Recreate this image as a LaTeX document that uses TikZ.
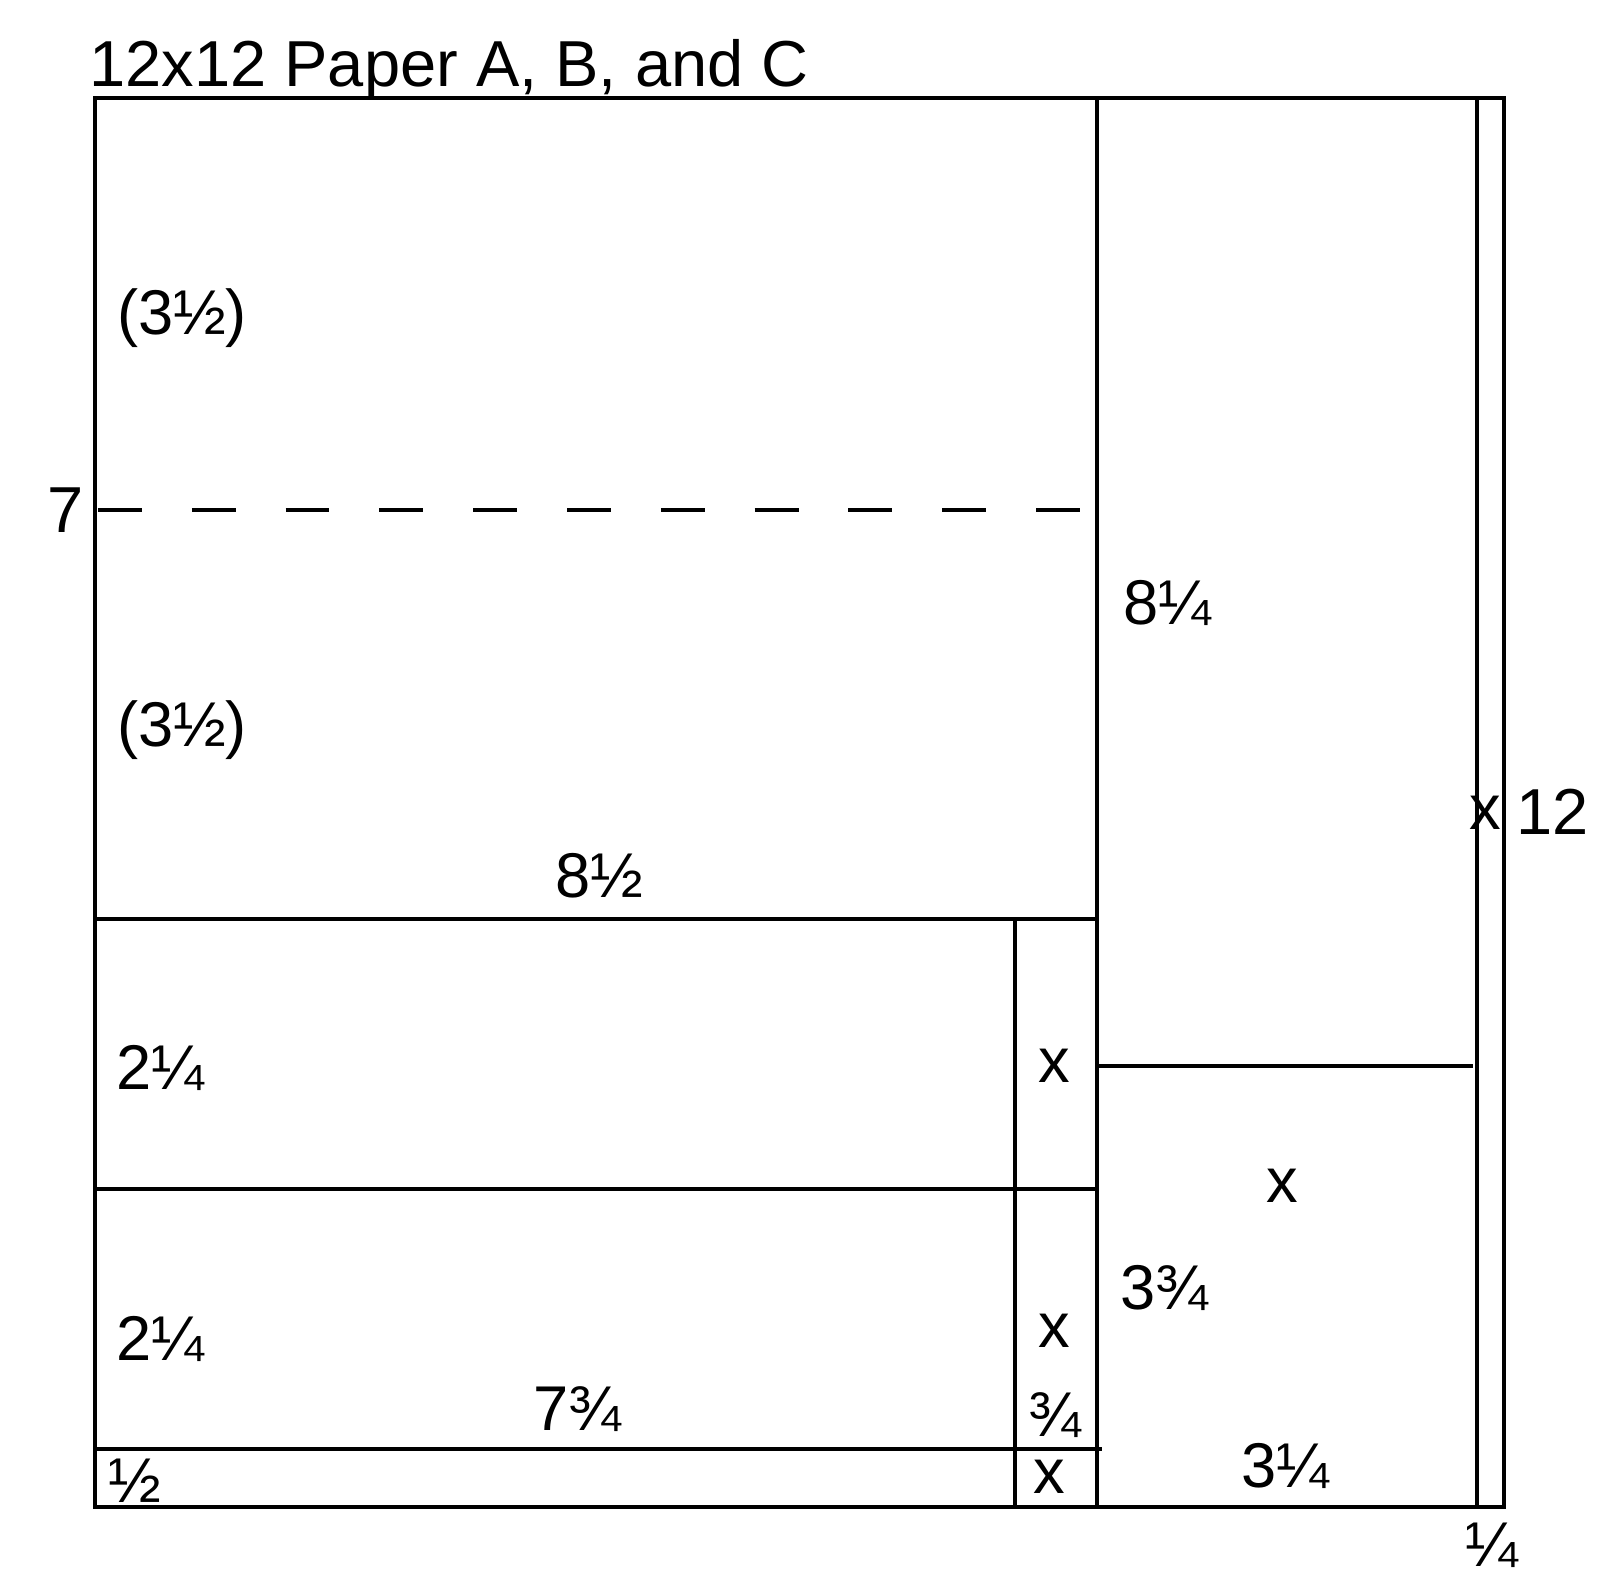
\documentclass[tikz,border=0pt]{standalone}
\usepackage{fontspec}
\setmainfont{Liberation Sans}
\begin{document}
\begin{tikzpicture}[x=0.0102041cm,y=-0.0102041cm,
  edge/.style={line width=1.15pt,line cap=rect},
  cut/.style={line width=1.15pt,dash pattern=on 12.5pt off 14.2pt},
  lbl/.style={inner sep=0pt,font=\fontsize{18}{21}\selectfont},
  big/.style={inner sep=0pt,font=\fontsize{18.5}{22}\selectfont}]
\useasboundingbox (0,0) rectangle (1568,1561);
% corners
\coordinate (tl) at (93,96);
\coordinate (bl) at (93,1477);
\coordinate (tr) at (1474,96);
\coordinate (br) at (1474,1477);
\coordinate (ir-t) at (1447,96);
\coordinate (ir-b) at (1447,1477);
\coordinate (m-t) at (1075,96);
\coordinate (m-b) at (1075,1477);
\coordinate (h1-l) at (93,901);
\coordinate (h1-r) at (1075,901);
\coordinate (v2-t) at (995,901);
\coordinate (v2-b) at (995,1477);
\coordinate (h2-l) at (93,1165);
\coordinate (h2-r) at (1075,1165);
\coordinate (h3-l) at (97,1420);
\coordinate (h3-r) at (1078,1420);
\coordinate (h4-l) at (1075,1045);
\coordinate (h4-r) at (1442,1045);
\coordinate (d-l) at (96,500);
\coordinate (d-r) at (1062,500);
% lines
\draw[edge] (tl) -- (tr) -- (br) -- (bl) -- cycle;
\draw[edge] (ir-t) -- (ir-b);
\draw[edge] (m-t) -- (m-b);
\draw[edge] (h1-l) -- (h1-r);
\draw[edge] (v2-t) -- (v2-b);
\draw[edge] (h2-l) -- (h2-r);
\draw[edge] (h3-l) -- (h3-r);
\draw[edge] (h4-l) -- (h4-r);
\draw[cut] (d-l) -- (d-r);
% labels
\node[big,anchor=base west] (title) at (87,85) {12x12 Paper A, B, and C};
\node[lbl,anchor=base west] (a1) at (114,328) {(3½)};
\node[lbl,anchor=base west] (a2) at (114,732) {(3½)};
\node[big,anchor=base] (seven) at (64,522) {7};
\node[lbl,anchor=base] (w1) at (1144,612) {8¼};
\node[lbl,anchor=base] (w2) at (587,880) {8½};
\node[lbl,anchor=base west] (b1) at (113,1068) {2¼};
\node[lbl,anchor=base west] (b2) at (113,1333) {2¼};
\node[lbl,anchor=base] (x1) at (1033,1061) {x};
\node[lbl,anchor=base] (x2) at (1033,1321) {x};
\node[lbl,anchor=base] (w3) at (566,1402) {7¾};
\node[lbl,anchor=base] (w4) at (1034,1408) {¾};
\node[lbl,anchor=base] (x3) at (1028,1464) {x};
\node[lbl,anchor=base] (h5) at (132,1472) {½};
\node[lbl,anchor=base] (x4) at (1257,1178) {x};
\node[lbl,anchor=base] (w5) at (1141,1283) {3¾};
\node[lbl,anchor=base] (w6) at (1260,1458) {3¼};
\node[lbl,anchor=base] (x5) at (1456,813) {x};
\node[big,anchor=base west] (twelve) at (1485,818) {12};
\node[lbl,anchor=base] (q) at (1462,1535) {¼};
\end{tikzpicture}
\end{document}
